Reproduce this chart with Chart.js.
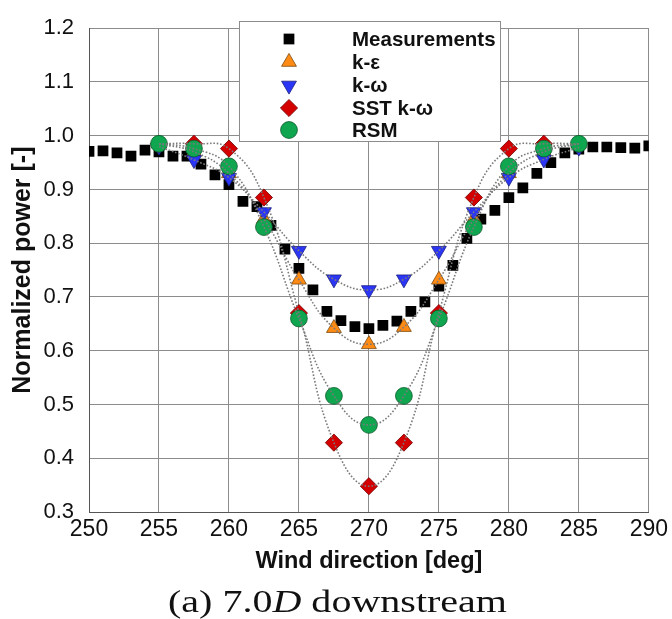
<!DOCTYPE html>
<html>
<head>
<meta charset="utf-8">
<script src="https://cdn.jsdelivr.net/npm/chart.js@4.4.1/dist/chart.umd.min.js"></script>
<style>
  html, body { margin: 0; padding: 0; background: #fff; }
  #wrap { width: 672px; height: 619px; position: relative; }
</style>
</head>
<body>
<div id="wrap"><canvas id="powerChart" width="672" height="619"></canvas></div>
<script>
// wind directions of the measurement bins [deg]
const measDeg = [250, 251, 252, 253, 254, 255, 256, 257, 258, 259, 260, 261, 262, 263, 264, 265,
    266, 267, 268, 269, 270, 271, 272, 273, 274, 275, 276, 277, 278, 279, 280,
    281, 282, 283, 284, 285, 286, 287, 288, 289, 290];
const measPower = [0.971, 0.972, 0.968, 0.962, 0.973, 0.970, 0.962, 0.962, 0.947, 0.927, 0.909, 0.878, 0.868, 0.833, 0.789, 0.753,
    0.713, 0.673, 0.656, 0.645, 0.641, 0.647, 0.655, 0.673, 0.691, 0.720, 0.759, 0.809, 0.845, 0.861, 0.885,
    0.903, 0.930, 0.950, 0.968, 0.975, 0.979, 0.979, 0.978, 0.977, 0.981];

// simulated wind directions [deg]
const modelDeg = [255, 257.5, 260, 262.5, 265, 267.5, 270, 272.5, 275, 277.5, 280, 282.5, 285];
const kEps     = [0.985, 0.970, 0.930, 0.845, 0.732, 0.642, 0.612, 0.644, 0.732, 0.845, 0.930, 0.970, 0.985];
const kOmega   = [0.980, 0.955, 0.922, 0.858, 0.786, 0.733, 0.713, 0.733, 0.786, 0.858, 0.922, 0.956, 0.978];
const sstKOmega = [0.985, 0.985, 0.976, 0.885, 0.670, 0.429, 0.348, 0.429, 0.670, 0.885, 0.976, 0.985, 0.985];
const rsm      = [0.985, 0.976, 0.943, 0.830, 0.660, 0.516, 0.462, 0.516, 0.660, 0.830, 0.943, 0.976, 0.985];

const xTickValues = [250, 255, 260, 265, 270, 275, 280, 285, 290];
const yTickValues = [0.3, 0.4, 0.5, 0.6, 0.7, 0.8, 0.9, 1.0, 1.1, 1.2];

const toXY = (xs, ys) => xs.map((x, i) => ({ x: x, y: ys[i] }));

const FONT = "'Liberation Sans', Arial, sans-serif";
const GRID = '#8c8c8c';

const series = [
    { label: 'Measurements', xs: measDeg, ys: measPower, style: 'rect', radius: 7.6, rotation: 0, color: '#000000', border: '#000000', fit: false },
    { label: 'k-\u03b5', xs: modelDeg, ys: kEps, style: 'triangle', radius: 8.6, rotation: 0, color: '#ff8a14', border: '#7a4a10', fit: true },
    { label: 'k-\u03c9', xs: modelDeg, ys: kOmega, style: 'triangle', radius: 8.6, rotation: 180, color: '#2b35f5', border: '#1a1f80', fit: true },
    { label: 'SST k-\u03c9', xs: modelDeg, ys: sstKOmega, style: 'rectRot', radius: 8.6, rotation: 0, color: '#d40000', border: '#700000', fit: true },
    { label: 'RSM', xs: modelDeg, ys: rsm, style: 'circle', radius: 8.4, rotation: 0, color: '#10a650', border: '#0b5a2c', fit: true }
];

const datasets = [];
// markers: later series drawn on top
series.forEach((s, i) => {
    datasets.push({
        label: s.label,
        data: toXY(s.xs, s.ys),
        pointStyle: s.style,
        pointRadius: s.radius,
        pointRotation: s.rotation,
        backgroundColor: s.color,
        borderColor: s.border,
        pointBorderWidth: s.fit ? 0.8 : 0,
        showLine: false,
        order: 10 - i
    });
});
// dotted fit curves over the markers
series.filter(s => s.fit).forEach(s => {
    datasets.push({
        label: s.label + ' fit',
        data: toXY(s.xs, s.ys),
        showLine: true,
        pointRadius: 0,
        borderColor: '#7a7a7a',
        borderWidth: 1.6,
        borderDash: [1.6, 1.8],
        tension: 0.45,
        fill: false,
        order: 0
    });
});

const legendBox = {
    id: 'legendBox',
    afterDraw(chart) {
        const ctx = chart.ctx;
        ctx.save();
        ctx.fillStyle = '#ffffff';
        ctx.fillRect(239, 21, 261, 120);
        ctx.strokeStyle = '#8c8c8c';
        ctx.lineWidth = 1;
        ctx.strokeRect(239.5, 21.5, 261, 120);
        const rows = [39, 62, 85.5, 108, 130];
        series.forEach((s, i) => {
            ctx.fillStyle = s.color;
            ctx.strokeStyle = s.border;
            ctx.lineWidth = s.fit ? 0.8 : 0;
            Chart.helpers.drawPoint(ctx, {
                pointStyle: s.style, radius: s.radius, rotation: s.rotation, borderWidth: s.fit ? 0.8 : 0
            }, 289, rows[i]);
            ctx.fillStyle = '#111';
            ctx.font = 'bold 20.5px ' + FONT;
            ctx.textBaseline = 'middle';
            ctx.textAlign = 'left';
            ctx.fillText(s.label, 352, rows[i] + 1);
        });
        ctx.restore();
    }
};

const caption = {
    id: 'caption',
    afterDraw(chart) {
        const ctx = chart.ctx;
        ctx.save();
        ctx.fillStyle = '#111';
        ctx.textBaseline = 'alphabetic';
        const parts = [
            { t: '(a) 7.0', f: '31px "Liberation Serif", serif' },
            { t: 'D', f: 'italic 31px "Liberation Serif", serif' },
            { t: ' downstream', f: '31px "Liberation Serif", serif' }
        ];
        let total = 0;
        parts.forEach(p => { ctx.font = p.f; p.w = ctx.measureText(p.t).width; total += p.w; });
        // the original caption is set in a wide serif, stretch to its width
        const sx = 339 / total;
        ctx.translate(168, 612);
        ctx.scale(sx, 1);
        let x = 0;
        parts.forEach(p => { ctx.font = p.f; ctx.fillText(p.t, x, 0); x += p.w; });
        ctx.restore();
    }
};

new Chart(document.getElementById('powerChart').getContext('2d'), {
    type: 'scatter',
    data: { datasets: datasets },
    options: {
        responsive: false,
        animation: false,
        layout: { padding: { left: 0, right: 21, top: 17, bottom: 43 } },
        plugins: {
            legend: { display: false },
            tooltip: { enabled: false }
        },
        scales: {
            x: {
                type: 'linear',
                min: 250,
                max: 290,
                afterBuildTicks: axis => { axis.ticks = xTickValues.map(v => ({ value: v })); },
                afterFit: axis => { axis.height = 64; },
                grid: { color: GRID, lineWidth: 1, drawTicks: false },
                border: { color: '#555', width: 1 },
                ticks: { color: '#111', font: { family: FONT, size: 23 }, padding: 4, maxRotation: 0 },
                title: { display: true, text: 'Wind direction [deg]', color: '#111', font: { family: FONT, size: 23.5, weight: 'bold' }, padding: { top: 2, bottom: 0 } }
            },
            y: {
                type: 'linear',
                min: 0.3,
                max: 1.2,
                afterBuildTicks: axis => { axis.ticks = yTickValues.map(v => ({ value: v })); },
                afterFit: axis => { axis.width = 89; },
                grid: { color: GRID, lineWidth: 1, drawTicks: false },
                border: { color: '#555', width: 1 },
                ticks: { color: '#111', font: { family: FONT, size: 22 }, padding: 15, callback: v => v.toFixed(1) },
                title: { display: true, text: 'Normalized power [-]', color: '#111', font: { family: FONT, size: 25, weight: 'bold' }, padding: { top: 8, bottom: 0 } }
            }
        }
    },
    plugins: [legendBox, caption]
});
</script>
</body>
</html>
